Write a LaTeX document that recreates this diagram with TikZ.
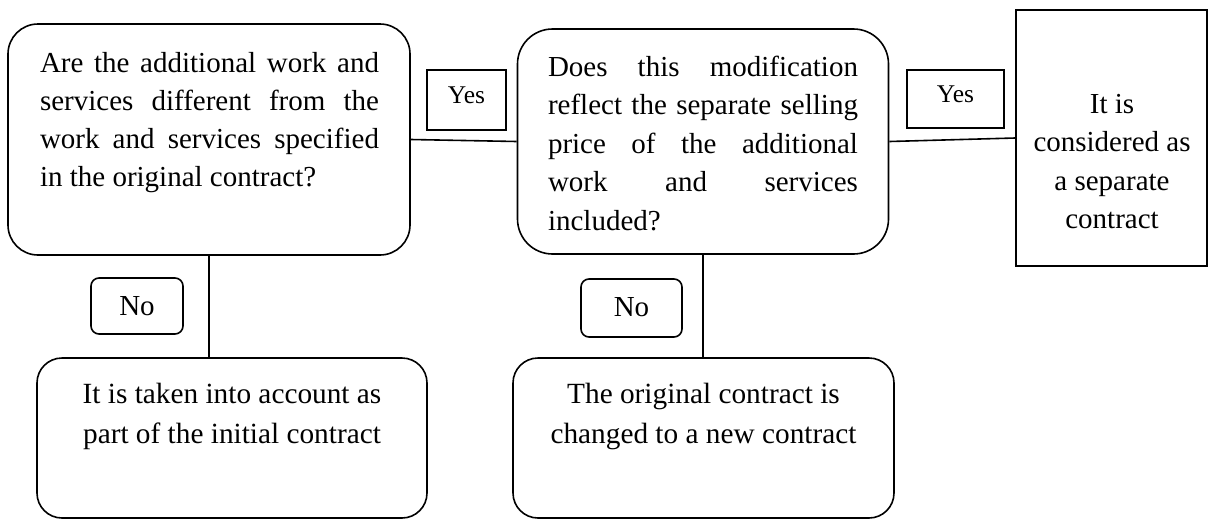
\documentclass[tikz,border=0pt]{standalone}
\usepackage{fontspec}
\setmainfont{Liberation Serif}
\begin{document}
\begin{tikzpicture}[x=1pt,y=-1pt,line width=1.6pt,
  box/.style={draw,inner sep=0pt,minimum width=#1},
  txt/.style={inner sep=0pt,outer sep=0pt},
  big/.style={font=\fontsize{29}{38}\selectfont},
  small/.style={font=\fontsize{25.5}{30}\selectfont}]
\useasboundingbox (0,0) rectangle (1209,520);
% boxes
\node[box=402pt,minimum height=231pt,rounded corners=30pt] (q1) at (209,139.5) {};
\node[box=371pt,minimum height=225pt,rounded corners=35pt] (q2) at (703,141.5) {};
\node[box=191pt,minimum height=256pt] (r) at (1111.5,138) {};
\node[box=390pt,minimum height=160pt,rounded corners=25pt] (b1) at (232,438) {};
\node[box=381pt,minimum height=160pt,rounded corners=25pt] (b2) at (703.5,438) {};
\node[box=79pt,minimum height=60pt] (y1) at (466.5,100) {};
\node[box=97pt,minimum height=58pt] (y2) at (955.5,99) {};
\node[box=92pt,minimum height=56pt,rounded corners=8pt] (n1) at (137,306) {};
\node[box=101pt,minimum height=58pt,rounded corners=8pt] (n2) at (631.5,308) {};
% texts
\node[txt,anchor=base west] (q1t) at (40,72) {\parbox[t]{339pt}{\fontsize{29}{38}\selectfont Are the additional work and\linebreak services different from the\linebreak work and services specified\linebreak in the original contract?}};
\node[txt,anchor=base west] (q2t) at (548,76) {\parbox[t]{310pt}{\fontsize{29}{38.5}\selectfont Does this modification\linebreak reflect the separate selling\linebreak price of the additional\linebreak work and services\linebreak included?}};
\node[txt,anchor=base] (rt) at (1112,113) {\parbox[t]{190pt}{\centering\fontsize{29}{38.5}\selectfont It is\\ considered as\\ a separate\\ contract}};
\node[txt,anchor=base] (b1t) at (232,403) {\parbox[t]{385pt}{\centering\fontsize{29.3}{40}\selectfont It is taken into account as\\ part of the initial contract}};
\node[txt,anchor=base] (b2t) at (703.5,403) {\parbox[t]{375pt}{\centering\fontsize{29.3}{40}\selectfont The original contract is\\ changed to a new contract}};
\node[txt,anchor=base,small] (y1t) at (466.5,103) {Yes};
\node[txt,anchor=base,small] (y2t) at (955.5,102) {Yes};
\node[txt,anchor=base,big] (n1t) at (137,315) {No};
\node[txt,anchor=base,big] (n2t) at (631.5,316) {No};
% connectors
\draw (q1.east) -- (q2.west);
\draw (q2.east) -- (r.west);
\draw (q1.south) -- (q1.south |- b1.north);
\draw (q2.south) -- (q2.south |- b2.north);
\end{tikzpicture}
\end{document}
